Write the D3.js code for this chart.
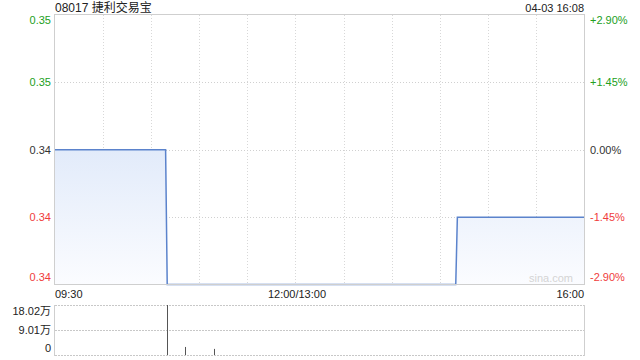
<!DOCTYPE html>
<html><head><meta charset="utf-8">
<script src="https://cdn.jsdelivr.net/npm/d3@7"></script>
<style>body{margin:0;background:#fff}svg{display:block}text{font-family:Arial,"Liberation Sans","Noto Sans CJK SC",sans-serif}</style>
</head><body>
<svg id="c" width="640" height="360"></svg>
<script>
const title = "08017 捷利交易宝";
const stamp = "04-03 16:08";
const prevClose = 0.345;
const priceTicks = [0.355, 0.35, 0.345, 0.34, 0.335];
const priceLabels = ["0.35", "0.35", "0.34", "0.34", "0.34"];
const pctLabels = ["+2.90%", "+1.45%", "0.00%", "-1.45%", "-2.90%"];
const timeLabels = ["09:30", "12:00/13:00", "16:00"];
const timeLabelMinutes = [0, 150, 330];
// price path: trading-minute index (0 = 09:30, 150 = 12:00/13:00, 330 = 16:00) and price
const priceMinutes = [0, 69, 70, 250, 251, 330];
const prices = [0.345, 0.345, 0.335, 0.335, 0.34, 0.34];
const volMinutes = [70, 81, 99];
const volumes = [180200, 29000, 22000];
const volTicks = [180200, 90100, 0];
const volLabels = ["18.02万", "9.01万", "0"];

const svg = d3.select("#c");
const L = 55, R = 584, T = 15, B = 284.5;
const VT = 305, VB = 355;
const x = d3.scaleLinear().domain([0, 330]).range([L, R]);
const y = d3.scaleLinear().domain([0.335, 0.355]).range([B, T]);
const yv = d3.scaleLinear().domain([0, 180200]).range([VB, VT]);

const defs = svg.append("defs");
const g = defs.append("linearGradient").attr("id", "fillg").attr("x1", 0).attr("y1", 0).attr("x2", 0).attr("y2", 1)
  .attr("gradientUnits", "userSpaceOnUse").attr("y1", y(0.345)).attr("y2", B);
g.append("stop").attr("offset", "0").attr("stop-color", "#e2ebfa");
g.append("stop").attr("offset", "1").attr("stop-color", "#fbfcff");

// grid
const grid = svg.append("g");
d3.range(30, 330, 30).forEach(m => {
  grid.append("line").attr("x1", Math.round(x(m)) + 0.5).attr("x2", Math.round(x(m)) + 0.5).attr("y1", T).attr("y2", B)
    .attr("stroke", "#d8d8d8").attr("stroke-dasharray", "1,2");
});
[0.35, 0.345, 0.34].forEach(v => {
  grid.append("line").attr("x1", L).attr("x2", R).attr("y1", Math.round(y(v)) + 0.5).attr("y2", Math.round(y(v)) + 0.5)
    .attr("stroke", "#d0d0d0").attr("stroke-dasharray", "1,2");
});

// area + line
const pts = priceMinutes.map((m, i) => [m, prices[i]]);
svg.append("path").datum(pts)
  .attr("d", d3.area().x(d => x(d[0])).y0(B).y1(d => y(d[1])))
  .attr("fill", "url(#fillg)");
svg.append("path").datum(pts)
  .attr("d", d3.line().x(d => x(d[0])).y(d => y(d[1])))
  .attr("fill", "none").attr("stroke", "#5b83cc").attr("stroke-width", 1.5);

// border
svg.append("rect").attr("x", L - 0.5).attr("y", T - 0.5).attr("width", R - L + 1).attr("height", B - T + 0.5)
  .attr("fill", "none").attr("stroke", "#cfcfcf");

// watermark
svg.append("text").attr("x", 573).attr("y", 282).attr("text-anchor", "end").attr("font-size", 11)
  .attr("fill", "#d4d4d4").text("sina.com");

// labels
const col = v => v > prevClose + 1e-9 ? "#22a022" : (v < prevClose - 1e-9 ? "#f03c3c" : "#333");
const lblY = (v, i) => i === 0 ? 20 : (i === priceTicks.length - 1 ? 277.5 : y(v));
priceTicks.forEach((v, i) => {
  svg.append("text").attr("x", 51).attr("y", lblY(v, i)).attr("dy", "0.35em").attr("text-anchor", "end")
    .attr("font-size", 11).attr("fill", col(v)).text(priceLabels[i]);
  svg.append("text").attr("x", 590).attr("y", lblY(v, i)).attr("dy", "0.35em").attr("text-anchor", "start")
    .attr("font-size", 11).attr("fill", col(v)).text(pctLabels[i]);
});
svg.append("text").attr("x", L).attr("y", 8).attr("dy", "0.35em").attr("font-size", 12).attr("fill", "#222").text(title);
svg.append("text").attr("x", R).attr("y", 8).attr("dy", "0.35em").attr("text-anchor", "end").attr("font-size", 11).attr("fill", "#222").text(stamp);
timeLabels.forEach((t, i) => {
  const anchor = i === 0 ? "start" : (i === timeLabels.length - 1 ? "end" : "middle");
  svg.append("text").attr("x", x(timeLabelMinutes[i]) + (i === 1 ? 1.5 : 0)).attr("y", 294).attr("dy", "0.35em")
    .attr("text-anchor", anchor).attr("font-size", 11).attr("fill", "#222").text(t);
});

// volume panel
[VT, (VT + VB) / 2, VB].forEach(yy => {
  svg.append("line").attr("x1", L).attr("x2", R).attr("y1", Math.round(yy) + 0.5).attr("y2", Math.round(yy) + 0.5)
    .attr("stroke", "#c8c8c8").attr("stroke-dasharray", "2,1");
});
svg.append("line").attr("x1", L - 0.5).attr("x2", L - 0.5).attr("y1", VT).attr("y2", VB + 1).attr("stroke", "#cfcfcf");
svg.append("line").attr("x1", R + 0.5).attr("x2", R + 0.5).attr("y1", VT).attr("y2", VB + 1).attr("stroke", "#cfcfcf");
svg.selectAll(".vb").data(volMinutes).enter().append("line")
  .attr("x1", (d) => Math.round(x(d)) + 0.5).attr("x2", (d) => Math.round(x(d)) + 0.5)
  .attr("y1", (d, i) => yv(volumes[i])).attr("y2", VB)
  .attr("stroke", "#555").attr("stroke-width", 1);
const vY = [311, 330, 348];
volTicks.forEach((v, i) => {
  svg.append("text").attr("x", 51).attr("y", vY[i]).attr("dy", "0.35em").attr("text-anchor", "end")
    .attr("font-size", 11).attr("fill", "#222").text(volLabels[i]);
});
</script>
</body></html>
